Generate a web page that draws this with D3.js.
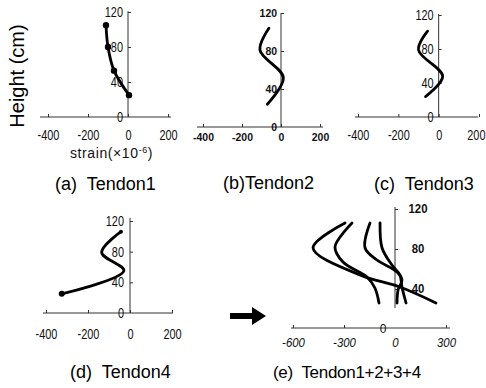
<!DOCTYPE html>
<html><head><meta charset="utf-8">
<script src="https://cdn.jsdelivr.net/npm/d3@7"></script>
<style>
html,body{margin:0;padding:0;background:#fff;}
svg{display:block;}
</style></head>
<body>
<svg id="chart" width="486" height="388"></svg>
<script>
// ---------- data ----------
const xTicks = [-400, -200, 0, 200];
const xTicksSum = [-600, -300, 0, 300];
const yTicks = [0, 40, 80, 120];

const tendon1Strain = [-110, -100, -70, 5];
const tendon1Height = [105, 80, 53, 25];
const tendon2Strain = [-62, -108, 12, -70];
const tendon2Height = [104, 81, 52, 24];
const tendon3Strain = [-55, -100, 20, -65];
const tendon3Height = [101, 79, 48, 24];
const tendon4Strain = [-43, -135, -29, -325];
const tendon4Height = [106, 79, 55, 25];

// (e) cumulative curves
const sumAStrain = [-294, -482, -206, 29, 241];
const sumAHeight = [106, 81, 54, 42, 26];
const sumBStrain = [-253, -353, -306, -165, -118, -94];
const sumBHeight = [106, 82, 67, 52, 41, 26];
const sumCStrain = [-147, -176, -106, 12, 41, 18, 12];
const sumCHeight = [106, 81, 69, 57, 49, 39, 26];
const sumDStrain = [-88, -76, -18, 29, 41, 65];
const sumDHeight = [106, 81, 64, 54, 42, 26];

const titles = ["(a)  Tendon1", "(b)Tendon2", "(c)  Tendon3", "(d)  Tendon4", "(e)  Tendon1+2+3+4"];

// ---------- helpers ----------
const svg = d3.select("#chart");
const zip = (xs, ys) => xs.map((v, i) => [v, ys[i]]);
const sans = "'Liberation Sans', Arial, Helvetica, sans-serif";
const SX = 0.78; // horizontal squeeze to imitate the narrow scanned digits

function panel(cfg) {
  const x = d3.scaleLinear().domain(cfg.xDom).range(cfg.xRange);
  const y = d3.scaleLinear().domain([0, 120]).range(cfg.yRange);
  const g = svg.append("g");
  const y0 = y(0), ax = x(0);
  const sx = cfg.sx ?? SX;

  // x axis
  const xa = g.append("g").attr("transform", `translate(0,${cfg.xAxisY ?? y0})`)
    .call(d3.axisBottom(x).tickValues(cfg.xTicks).tickSizeInner(-3).tickSizeOuter(0).tickPadding(cfg.xPad));
  xa.select(".domain").remove();
  xa.append("line").attr("x1", cfg.xLine[0]).attr("x2", cfg.xLine[1]).attr("stroke", "#333").attr("stroke-width", 1);
  xa.selectAll(".tick line").attr("stroke", "#333");
  xa.selectAll(".tick text").attr("fill", "#111").style("font-family", sans)
    .style("font-size", cfg.xFs + "px").style("font-weight", cfg.bold ? "bold" : "normal")
    .style("font-style", cfg.italic ? "italic" : "normal")
    .attr("transform", `scale(${sx},1)`)
    .text(d => (d < 0 ? "-" + Math.abs(d) : d));
  if (cfg.lastDx) xa.selectAll(".tick text").filter((d, i, n) => i === n.length - 1).attr("dx", cfg.lastDx);
  if (cfg.hideZeroX) xa.selectAll(".tick").filter(d => d === 0).select("line").remove();

  // y axis
  const ya = g.append("g").attr("transform", `translate(${ax},0)`);
  if (cfg.rightLabels) {
    ya.call(d3.axisRight(y).tickValues(yTicks.filter(d => d > 0)).tickSizeInner(3).tickSizeOuter(0).tickPadding(cfg.yPad));
    ya.selectAll(".tick text").attr("text-anchor", "middle");
  } else {
    ya.call(d3.axisLeft(y).tickValues(yTicks).tickSizeInner(-3).tickSizeOuter(0).tickPadding(cfg.yPad));
    ya.selectAll(".tick").filter(d => d === 0).select("line").remove();
  }
  ya.select(".domain").remove();
  ya.append("line").attr("y1", y(cfg.yLine[0])).attr("y2", y(cfg.yLine[1])).attr("stroke", "#333").attr("stroke-width", 1);
  ya.selectAll(".tick line").attr("stroke", "#333");
  ya.selectAll(".tick text").attr("fill", "#111").style("font-family", sans)
    .style("font-size", cfg.yFs + "px").style("font-weight", cfg.bold || cfg.rightLabels ? "bold" : "normal")
    .attr("x", function() { return +d3.select(this).attr("x") / sx; })
    .attr("transform", `scale(${sx},1)`);

  // curves
  const line = d3.line().x(d => x(d[0])).y(d => y(d[1])).curve(d3.curveCatmullRom.alpha(0.5));
  cfg.series.forEach(s => {
    g.append("path").attr("d", line(s)).attr("fill", "none").attr("stroke", "#000")
      .attr("stroke-width", 2.8).attr("stroke-linecap", "round").attr("stroke-linejoin", "round");
  });
  (cfg.markers || []).forEach(m => {
    g.append("circle").attr("cx", x(m[0])).attr("cy", y(m[1])).attr("r", m[2]).attr("fill", "#000");
  });

  // title
  g.append("text").attr("x", cfg.title[0]).attr("y", cfg.title[1]).text(cfg.title[2])
    .style("font-family", sans).style("font-size", (cfg.titleFs || 18) + "px").attr("fill", "#000")
    .style("letter-spacing", (cfg.titleLs || 0) + "px")
    .attr("xml:space", "preserve").style("white-space", "pre");
  return {x, y, g};
}

// (a)
panel({
  xDom: [-400, 200], xRange: [48, 168], yRange: [117, 12], xTicks, xPad: 13, xFs: 14, yPad: 5, yFs: 14,
  xLine: [40, 171], yLine: [0, 121],
  series: [zip(tendon1Strain, tendon1Height)],
  markers: zip(tendon1Strain, tendon1Height).map(d => [d[0], d[1], 3.2]),
  title: [55, 190, titles[0]]
});
// strain label
const st = svg.append("text").attr("x", 70).attr("y", 158).style("font-family", sans).style("font-size", "14px")
  .style("letter-spacing", "0.6px").attr("fill", "#111");
st.append("tspan").text("strain(×10");
st.append("tspan").attr("dy", -5).style("font-size", "9px").text("-6");
st.append("tspan").attr("dy", 5).text(")");
// y label
svg.append("text").attr("transform", "translate(24,76) rotate(-90)").attr("text-anchor", "middle")
  .style("font-family", sans).style("font-size", "20px").attr("fill", "#000").text("Height (cm)");

// (b)
panel({
  xDom: [-400, 200], xRange: [203, 320], yRange: [127, 13], xTicks, xPad: 6, xFs: 11, yPad: 4, yFs: 11, bold: true, sx: 0.95,
  xLine: [197, 323], yLine: [0, 120],
  series: [zip(tendon2Strain, tendon2Height)],
  title: [223, 189, titles[1]]
});
// (c)
panel({
  xDom: [-400, 200], xRange: [358, 479], yRange: [117, 15], xTicks, xPad: 13, xFs: 14, yPad: 5, yFs: 14,
  xLine: [355, 478], yLine: [0, 121], lastDx: -4,
  series: [zip(tendon3Strain, tendon3Height)],
  title: [374, 190, titles[2]]
});
// (d)
panel({
  xDom: [-400, 200], xRange: [46, 172], yRange: [313, 221], xTicks, xPad: 16, xFs: 14, yPad: 6, yFs: 14,
  xLine: [43, 173], yLine: [0, 124],
  series: [zip(tendon4Strain, tendon4Height)],
  markers: [[tendon4Strain[0], tendon4Height[0], 2], [tendon4Strain[3], tendon4Height[3], 3]],
  title: [70, 378, titles[3]]
});
// (e)
const pe = panel({
  xDom: [-600, 300], xRange: [293, 446], yRange: [329, 209], xTicks: xTicksSum, xPad: 10, xFs: 12, italic: true,
  xAxisY: 328, sx: 0.95,
  yPad: 20, yFs: 12, rightLabels: true, hideZeroX: true,
  xLine: [291, 450], yLine: [21, 122],
  series: [zip(sumAStrain, sumAHeight), zip(sumBStrain, sumBHeight), zip(sumCStrain, sumCHeight), zip(sumDStrain, sumDHeight)],
  title: [273, 378, titles[4]], titleFs: 17, titleLs: -0.3
});
// y "0" label of (e), sitting on the x axis
svg.append("text").attr("x", pe.x(0) - 12).attr("y", pe.y(0) + 4).attr("text-anchor", "middle")
  .style("font-family", sans).style("font-size", "12px").attr("fill", "#111").text("0");

// arrow
svg.append("path").attr("d", "M230,313 L252,313 L252,307 L266,316 L252,325 L252,319 L230,319 Z").attr("fill", "#000");
</script>
</body></html>
